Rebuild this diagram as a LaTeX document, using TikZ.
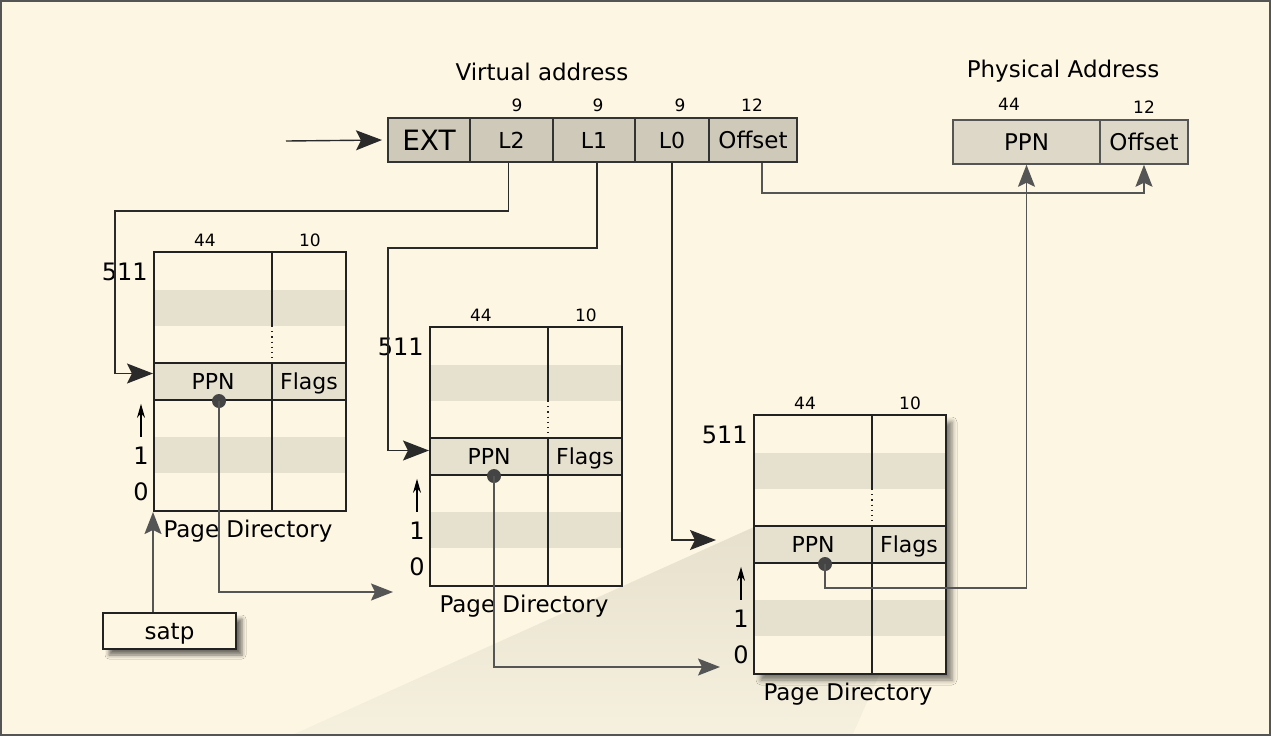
\documentclass[tikz,border=0pt]{standalone}
\usepackage{fontspec}
\setmainfont{DejaVu Sans}
\usetikzlibrary{arrows.meta,shadows.blur}

\definecolor{paper}{HTML}{FDF6E3}
\definecolor{framecol}{HTML}{555555}
\definecolor{rowfill}{HTML}{E6E0CE}
\definecolor{vafill}{HTML}{CFC9B9}
\definecolor{pafill}{HTML}{DDD8C7}
\definecolor{vaedge}{HTML}{333333}
\definecolor{paedge}{HTML}{555555}
\definecolor{tabedge}{HTML}{222222}
\definecolor{walkcol}{HTML}{2A2A2A}
\definecolor{linkcol}{HTML}{555555}
\definecolor{dotcol}{HTML}{444444}
\definecolor{wedgetop}{HTML}{E6E0CD}
\definecolor{wedgelow}{HTML}{F6F0DE}

\tikzset{
  field/.style={draw=vaedge, fill=vafill, line width=1pt, inner sep=0pt,
    minimum height=22pt, text height=8.2pt, text depth=0pt, font=\fontsize{11}{13}\selectfont},
  pafield/.style={field, draw=paedge, fill=pafill, line width=0.75pt,
    font=\fontsize{11.5}{13}\selectfont},
  bits/.style={inner sep=1pt, font=\fontsize{8.5}{10}\selectfont},
  title/.style={inner sep=1pt, font=\fontsize{11.5}{14}\selectfont},
  rownum/.style={inner sep=1pt, font=\fontsize{12}{14}\selectfont},
  pdbox/.style={draw=tabedge, fill=paper, line width=1pt, inner sep=0pt,
    minimum width=96pt, minimum height=129.5pt},
  pdcell/.style={draw=tabedge, fill=rowfill, line width=1pt, inner sep=0pt,
    minimum height=18.5pt, text height=8pt, text depth=0pt, font=\fontsize{11}{13}\selectfont},
  entry/.style={circle, fill=dotcol, inner sep=0pt, minimum size=7pt},
  satpbox/.style={draw=tabedge, fill=paper, line width=1pt, inner sep=0pt,
    minimum width=66.5pt, minimum height=18pt, text height=8.3pt, text depth=0pt,
    font=\fontsize{11.5}{13}\selectfont,
    blur shadow={shadow xshift=3pt, shadow yshift=-3pt, shadow blur radius=2pt, shadow opacity=55}},
  walk/.style={draw=walkcol, line width=0.7pt, -{Stealth[length=13pt,width=10pt,inset=2.5pt]}},
  link/.style={draw=linkcol, line width=0.9pt, -{Stealth[length=11pt,width=8.5pt,inset=2pt]}},
  upidx/.style={draw=black, line width=0.6pt, -{Stealth[length=7pt,width=4pt]}}
}

\begin{document}
\begin{tikzpicture}[x=0.5pt,y=-0.5pt]
    \useasboundingbox (0,0) rectangle (1271,736);
    \fill[paper] (0,0) rectangle (1271,736);
    % light cone below the last table
    \shade[top color=wedgetop, bottom color=wedgelow]
        (754,527) -- (290,736) -- (852,736) -- (880,673) -- (754,673) -- cycle;
    \path[blur shadow={shadow xshift=3.5pt, shadow yshift=-3.5pt, shadow blur radius=2.5pt, shadow opacity=50}]
        (754,415) rectangle (945,673);

    % virtual address
    \node[title] (va-title) at (542,72) {Virtual address};
    \node[field, minimum width=41pt, text height=10.2pt, font=\fontsize{14}{16}\selectfont] (EXT) at (429,140) {EXT};
    \node[field, minimum width=41.5pt] (L2) at (511.5,140) {L2};
    \node[field, minimum width=41pt] (L1) at (594,140) {L1};
    \node[field, minimum width=37pt] (L0) at (672,140) {L0};
    \node[field, minimum width=44pt, font=\fontsize{11.5}{13}\selectfont] (VAoff) at (753,140) {Offset};
    \node[bits] (va-w2) at (517,105) {9};
    \node[bits] (va-w1) at (598,105) {9};
    \node[bits] (va-w0) at (680,105) {9};
    \node[bits] (va-woff) at (752,105) {12};
    \coordinate (vain) at (286,141);

    % physical address
    \node[title] (pa-title) at (1063,71) {Physical Address};
    \node[pafield, minimum width=73.5pt] (PAppn) at (1026.5,142) {PPN};
    \node[pafield, minimum width=44pt] (PAoff) at (1144,142) {Offset};
    \node[bits] (pa-wppn) at (1009,104) {44};
    \node[bits] (pa-woff) at (1144,107) {12};

    % page directories
    \foreach \pd/\px/\py/\dx in {PD1/154/252/65, PD2/430/327/64, PD3/754/415/71}{
        \begin{scope}[shift={(\px,\py)}]
            \node[pdbox] (\pd) at (96,129.5) {};
            \fill[rowfill] (1,38) rectangle (191,74);
            \fill[rowfill] (1,185) rectangle (191,221);
            \node[pdcell, minimum width=59pt] (\pd-ppn) at (59,129.5) {PPN};
            \node[pdcell, minimum width=37pt] (\pd-flags) at (155,129.5) {Flags};
            \draw[tabedge, line width=0.8pt] (118,0) -- (118,74);
            \draw[tabedge, line width=0.6pt, dotted] (118,74) -- (118,111);
            \draw[tabedge, line width=0.8pt] (118,148) -- (118,259);
            \node[bits] (\pd-w44) at (51,-12) {44};
            \node[bits] (\pd-w10) at (156,-12) {10};
            \node[rownum, anchor=east] (\pd-top) at (-4,20) {511};
            \node[rownum] (\pd-one) at (-13,204) {1};
            \node[rownum] (\pd-zero) at (-13,240) {0};
            \draw[upidx] ([yshift=4pt]\pd-one.north) -- ++(0,-33);
            \node[title] (\pd-name) at (94,279) {Page Directory};
            \node[entry] (\pd-dot) at (\dx,149) {};
        \end{scope}
    }

    \node[satpbox] (satp) at (169.5,631) {satp};

    \coordinate (l2turn) at (115,211);
    \coordinate (l1turn) at (388,248);
    \coordinate (l0end) at (716,540);
    \coordinate (offturn) at (1144,193);
    \coordinate (pd1end) at (393,592);
    \coordinate (pd2end) at (720,667);
    \coordinate (pd3turn) at (1026.5,588);

    \draw[walk] (vain) -- ([xshift=-2.5pt]EXT.west);
    \draw[walk] ([xshift=-1.5pt]L2.south) |- (l2turn) |- ([yshift=4pt]PD1-ppn.west);
    \draw[walk] ([xshift=1.5pt]L1.south) |- (l1turn) |- ([yshift=3pt]PD2-ppn.west);
    \draw[walk] (L0.south) |- (l0end);
    \draw[link] ([xshift=4.5pt]VAoff.south) |- (offturn) -- (PAoff.south);
    \draw[link] (satp.north -| PD1.south west) -- (PD1.south west);
    \draw[link] (PD1-dot.center) |- (pd1end);
    \draw[link] (PD2-dot.center) |- (pd2end);
    \draw[link] (PD3-dot.center) |- (pd3turn) -- (PAppn.south);

    \draw[framecol, line width=1.2pt] (1.2,1.2) rectangle (1269.8,734.8);
\end{tikzpicture}
\end{document}
